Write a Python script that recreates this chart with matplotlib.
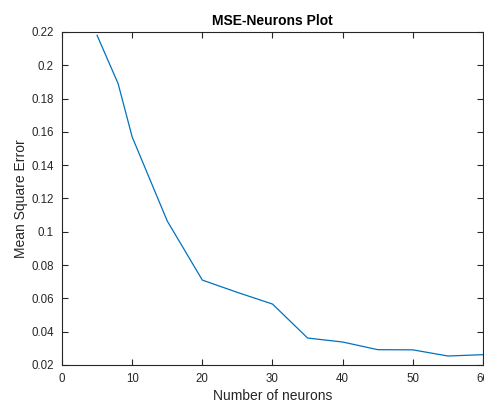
import matplotlib
matplotlib.use("Agg")
import matplotlib.pyplot as plt

# values
neurons = [5, 8, 10, 15, 20, 25, 30, 35, 40, 45, 50, 55, 60]
mse = [0.218, 0.189, 0.157, 0.1065, 0.071, 0.0636, 0.0566, 0.0362, 0.0338,
       0.0292, 0.0291, 0.0254, 0.0262]
x_ticks = [0, 10, 20, 30, 40, 50, 60]
y_ticks = [0.02, 0.04, 0.06, 0.08, 0.1, 0.12, 0.14, 0.16, 0.18, 0.2, 0.22]
y_labels = ["0.02", "0.04", "0.06", "0.08", "0.1", "0.12", "0.14", "0.16",
            "0.18", "0.2", "0.22"]

plt.rcParams['font.family'] = ['Liberation Sans', 'DejaVu Sans']
axis_col = '#262626'

fig = plt.figure(figsize=(4.85, 4.03), dpi=100)
ax = fig.add_axes([0.1278, 0.0943, 0.8681, 0.8263])
ax.plot(neurons, mse, color='#0072BD', linewidth=0.9)

ax.set_xlim(0, 60)
ax.set_ylim(0.02, 0.22)
ax.set_xticks(x_ticks)
ax.set_yticks(y_ticks)
ax.set_yticklabels(y_labels)
ax.tick_params(direction='in', top=True, right=True, length=4, width=0.8,
               colors=axis_col, labelsize=8.3)
ax.tick_params(axis='x', pad=6)
ax.tick_params(axis='y', pad=6)
for s in ax.spines.values():
    s.set_color(axis_col)
    s.set_linewidth(0.8)

ax.set_xlabel('Number of neurons', fontsize=10, color=axis_col, labelpad=3)
ax.set_ylabel('Mean Square Error', fontsize=10, color=axis_col, labelpad=2.5)
ax.set_title('MSE-Neurons Plot', fontsize=10, fontweight='bold', color='black', pad=5)

fig.savefig('out.png', dpi=100)
